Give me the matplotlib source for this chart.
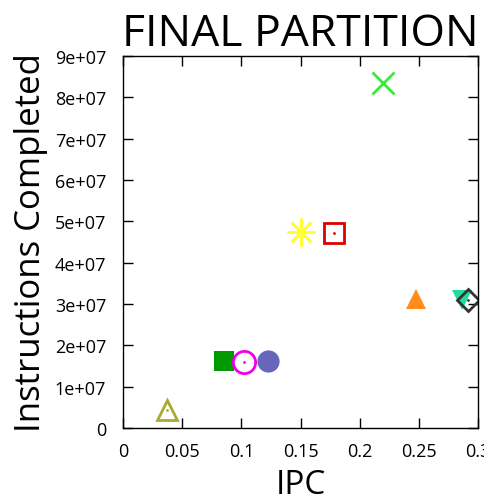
import matplotlib
matplotlib.use("Agg")
import matplotlib.pyplot as plt

plt.rcParams.update({
    "font.family": ["Open Sans", "DejaVu Sans"],
    "xtick.direction": "in",
    "ytick.direction": "in",
    "xtick.top": True,
    "ytick.right": True,
})

# Points: IPC vs instructions completed
ipc = [0.220, 0.150, 0.178, 0.2476, 0.2865, 0.2916, 0.0853, 0.102, 0.1225, 0.0372]
instr = [8.35e7, 4.74e7, 4.72e7, 3.12e7, 3.10e7, 3.10e7, 1.62e7, 1.60e7, 1.62e7, 0.44e7]
markers = ["x", "*", "s", "^", "v", "D", "s", "o", "o", "^"]
colors = ["#33ee33", "#ffff33", "#dd0000", "#ff8c1a", "#22dd99", "#333333",
          "#009900", "#ee00ee", "#6666bb", "#aaaa33"]
filled = [True, True, False, True, True, False, True, False, True, False]
sizes = [16, 20, 14, 15, 15, 11, 15, 16, 16, 15]

xticks = [0, 0.05, 0.1, 0.15, 0.2, 0.25, 0.3]
xticklabels = ["0", "0.05", "0.1", "0.15", "0.2", "0.25", "0.3"]
yticks = [0, 1e7, 2e7, 3e7, 4e7, 5e7, 6e7, 7e7, 8e7, 9e7]
yticklabels = ["0", "1e+07", "2e+07", "3e+07", "4e+07", "5e+07", "6e+07",
               "7e+07", "8e+07", "9e+07"]

fig = plt.figure(figsize=(4.84, 5.02), dpi=100)
ax = fig.add_axes([0.254, 0.1454, 0.734, 0.7411])

for x, y, m, c, f, s in zip(ipc, instr, markers, colors, filled, sizes):
    if m in ("x", "*"):
        ax.plot(x, y, marker="x" if m == "x" else (8, 2, 0), color=c,
                markersize=s, markeredgewidth=2, linestyle="none")
    elif f:
        ax.plot(x, y, marker=m, color=c, markersize=s, markeredgewidth=0,
                linestyle="none")
    else:
        ax.plot(x, y, marker=m, markerfacecolor="none", markeredgecolor=c,
                markersize=s, markeredgewidth=2, linestyle="none")
        # gnuplot leaves a tiny dot at the centre of open points
        ax.plot(x, y, marker=".", color=c, markersize=2, linestyle="none")

ax.set_xlim(0, 0.3)
ax.set_ylim(0, 9e7)
ax.set_xticks(xticks)
ax.set_xticklabels(xticklabels)
ax.set_yticks(yticks)
ax.set_yticklabels(yticklabels)
ax.tick_params(labelsize=13, length=7, width=1)
ax.tick_params(axis="y", pad=12)
ax.tick_params(axis="x", pad=10)
for sp in ax.spines.values():
    sp.set_linewidth(1)

ax.set_xlabel("IPC", fontsize=24, labelpad=6)
ax.set_ylabel("Instructions Completed", fontsize=25, labelpad=5)
ax.set_title("FINAL PARTITION", fontsize=32, pad=6)

fig.savefig("out.png", dpi=100)
